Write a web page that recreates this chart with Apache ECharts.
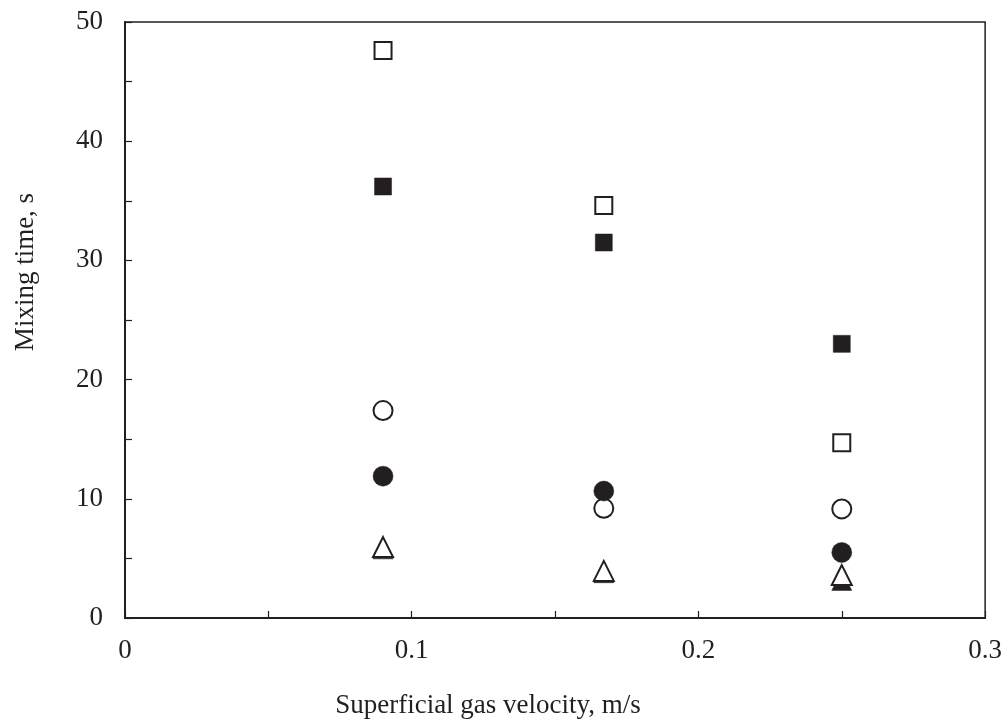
<!DOCTYPE html>
<html>
<head>
<meta charset="utf-8">
<script src="https://cdn.jsdelivr.net/npm/echarts@6/dist/echarts.min.js"></script>
<style>html,body{margin:0;padding:0;background:#fff;}#c{width:1005px;height:720px;}</style>
</head>
<body>
<div id="c"></div>
<script>
const velocities = [0.09, 0.167, 0.25];
const openSquare = [47.6, 34.6, 14.7];
const filledSquare = [36.2, 31.5, 23.0];
const openCircle = [17.4, 9.2, 9.15];
const filledCircle = [11.9, 10.65, 5.5];
const openTriangle = [5.95, 3.95, 3.6];
const filledTriangle = [5.8, 3.8, 3.15];
const xTickLabels = {0: '0', 0.1: '0.1', 0.2: '0.2', 0.3: '0.3'};
const yTickLabels = {0: '0', 10: '10', 20: '20', 30: '30', 40: '40', 50: '50'};
const xName = 'Superficial gas velocity, m/s';
const yName = 'Mixing time, s';

const ink = '#231f20';
const font = 'Liberation Serif';
function pts(vals){ return velocities.map((v,i)=>[v, vals[i]]); }
function ser(vals, symbol, size, filled){
  return {
    type: 'scatter', data: pts(vals), symbol: symbol, symbolSize: size,
    itemStyle: {color: filled ? ink : '#fff', borderColor: ink, borderWidth: filled ? 0.5 : 2, opacity: 1},
    emphasis: {disabled: true}
  };
}
const chart = echarts.init(document.getElementById('c'));
chart.setOption({
  animation: false,
  grid: {left: 125, right: 17, top: 22, bottom: 102, show: true, borderColor: ink, borderWidth: 1.5, backgroundColor: 'transparent'},
  xAxis: {
    type: 'value', min: 0, max: 0.3, interval: 0.05,
    axisLine: {lineStyle: {color: ink, width: 2}},
    axisTick: {inside: true, length: 7, lineStyle: {color: ink, width: 1.2}},
    splitLine: {show: false},
    axisLabel: {margin: 19, fontFamily: font, fontSize: 27, color: ink,
      formatter: v => { const k = Math.round(v*100)/100; return xTickLabels[k] !== undefined ? xTickLabels[k] : ''; }}
  },
  yAxis: {
    type: 'value', min: 0, max: 50, interval: 5,
    axisLine: {lineStyle: {color: ink, width: 2}},
    axisTick: {inside: true, length: 7, lineStyle: {color: ink, width: 1.2}},
    splitLine: {show: false},
    axisLabel: {margin: 22, fontFamily: font, fontSize: 27, color: ink,
      formatter: v => yTickLabels[v] !== undefined ? yTickLabels[v] : ''}
  },
  graphic: [
    {type: 'text', x: 488, y: 706, style: {text: xName, fontFamily: font, fontSize: 27, fill: ink, align: 'center', verticalAlign: 'middle'}},
    {type: 'text', x: 26, y: 272, rotation: Math.PI/2, style: {text: yName, fontFamily: font, fontSize: 27, fill: ink, align: 'center', verticalAlign: 'middle'}}
  ],
  series: [
    ser(openSquare, 'rect', 17, false),
    ser(filledSquare, 'rect', 17, true),
    ser(openCircle, 'circle', 19, false),
    ser(filledCircle, 'circle', 20, true),
    ser(filledTriangle, 'triangle', 20, true),
    ser(openTriangle, 'triangle', 20, false)
  ]
});
</script>
</body>
</html>
